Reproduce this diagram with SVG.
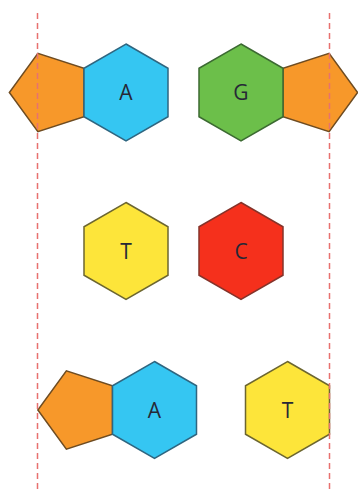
<svg xmlns="http://www.w3.org/2000/svg" width="358" height="492" viewBox="0 0 358 492">
  <style>
    .shape { stroke-width: 1.5; stroke-linejoin: miter; }
    .blue { fill: #35c6f2; stroke: #2f6680; }
    .green { fill: #6cbf4a; stroke: #3c6a32; }
    .orange { fill: #f7982a; stroke: #6e4c22; }
    .yellow { fill: #fde53a; stroke: #6c6630; }
    .red { fill: #f5301c; stroke: #85332a; }
    .label { font-family: "Open Sans", "Liberation Sans", sans-serif; font-size: 21px; fill: #262836; text-anchor: middle; }
    .guide { stroke: #e8716f; stroke-width: 1.5; stroke-dasharray: 6 4; fill: none; }
  </style>
  <rect width="358" height="492" fill="#ffffff"/>

  <g id="pair-A-top">
    <polygon class="shape orange" points="84,68.25 84,116.75 37.87,131.74 9.36,92.5 37.87,53.26"/>
    <polygon class="shape blue" points="126,44 168,68.25 168,116.75 126,141 84,116.75 84,68.25"/>
    <text class="label" x="126" y="100">A</text>
  </g>

  <g id="pair-G-top">
    <polygon class="shape orange" points="283,68.25 283,116.75 329.13,131.74 357.64,92.5 329.13,53.26"/>
    <polygon class="shape green" points="241,44 283,68.25 283,116.75 241,141 199,116.75 199,68.25"/>
    <text class="label" x="241" y="100">G</text>
  </g>

  <g id="node-T-mid">
    <polygon class="shape yellow" points="126,202.5 168,226.75 168,275.25 126,299.5 84,275.25 84,226.75"/>
    <text class="label" x="126" y="258.5">T</text>
  </g>

  <g id="node-C-mid">
    <polygon class="shape red" points="241,202.5 283,226.75 283,275.25 241,299.5 199,275.25 199,226.75"/>
    <text class="label" x="241" y="258.5">C</text>
  </g>

  <g id="pair-A-bottom">
    <polygon class="shape orange" points="112.5,385.75 112.5,434.25 66.37,449.24 37.86,410 66.37,370.76"/>
    <polygon class="shape blue" points="154.5,361.5 196.5,385.75 196.5,434.25 154.5,458.5 112.5,434.25 112.5,385.75"/>
    <text class="label" x="154.5" y="417.5">A</text>
  </g>

  <g id="node-T-bottom">
    <polygon class="shape yellow" points="287.5,361.5 329.5,385.75 329.5,434.25 287.5,458.5 245.5,434.25 245.5,385.75"/>
    <text class="label" x="287.5" y="417.5">T</text>
  </g>

  <g id="guides">
    <line class="guide" x1="37.5" y1="13" x2="37.5" y2="492"/>
    <line class="guide" x1="329.5" y1="13" x2="329.5" y2="492"/>
  </g>
</svg>
